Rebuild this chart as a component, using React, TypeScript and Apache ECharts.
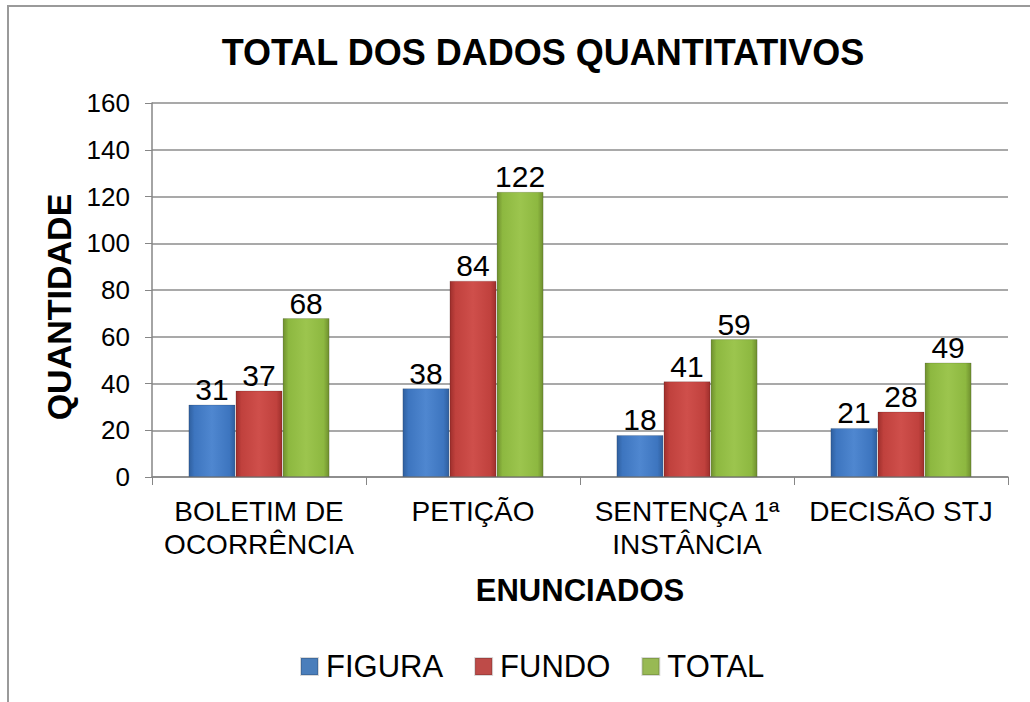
import React, { useEffect, useRef } from "react";
import * as echarts from "echarts";

const categories = ["BOLETIM DE\nOCORRÊNCIA", "PETIÇÃO", "SENTENÇA 1ª\nINSTÂNCIA", "DECISÃO STJ"];
const figura = [31, 38, 18, 21];
const fundo = [37, 84, 41, 28];
const total = [68, 122, 59, 49];
const seriesNames = ["FIGURA", "FUNDO", "TOTAL"];

const FONT = "'Liberation Sans', Arial, sans-serif";

function grad(dark: string, mid: string, light: string) {
  return new echarts.graphic.LinearGradient(0, 0, 1, 0, [
    { offset: 0, color: dark },
    { offset: 0.12, color: mid },
    { offset: 0.5, color: light },
    { offset: 0.88, color: mid },
    { offset: 1, color: dark },
  ]);
}

export default function App() {
  const ref = useRef<HTMLDivElement>(null);
  useEffect(() => {
    const chart = echarts.init(ref.current!, null, { renderer: "svg" });
    const colors = [
      grad("#2f5f9e", "#3d75bf", "#4f87d0"),
      grad("#9e2f2c", "#c0413d", "#cf4f4b"),
      grad("#6f8f2e", "#8db840", "#9cc54e"),
    ];
    const legendColors = ["#4a7ebb", "#be4b48", "#98b954"];
    const mk = (name: string, data: number[], i: number) => ({
      name,
      type: "bar",
      data,
      barGap: "0%",
      barCategoryGap: "34%",
      itemStyle: { color: colors[i], borderColor: "rgba(0,0,0,0.15)", borderWidth: 1 },
      label: {
        show: true,
        position: "top",
        distance: 0,
        fontSize: 30,
        fontFamily: FONT,
        color: "#000",
      },
    });
    chart.setOption({
      animation: false,
      color: legendColors,
      title: {
        text: "TOTAL DOS DADOS QUANTITATIVOS",
        left: 538,
        textAlign: "center",
        top: 29,
        textStyle: { fontSize: 36, fontWeight: "bold", fontFamily: FONT, color: "#000" },
      },
      graphic: [
        {
          type: "rect",
          shape: { x: 8, y: 6, width: 1200, height: 900 },
          style: { fill: "none", stroke: "#9a9a9a", lineWidth: 2 },
          silent: true,
        },
      ],
      legend: {
        data: seriesNames.map((n, i) => ({ name: n, itemStyle: { color: legendColors[i] } })),
        left: 295,
        top: 646,
        itemWidth: 17,
        itemHeight: 17,
        itemGap: 31,
        icon: "rect",
        textStyle: { fontSize: 31, fontFamily: FONT, color: "#000", padding: [0, 0, 0, 3] },
      },
      grid: { left: 152, right: 22, top: 103, bottom: 225, containLabel: false },
      xAxis: {
        type: "category",
        data: categories,
        name: "ENUNCIADOS",
        nameLocation: "middle",
        nameGap: 98,
        nameTextStyle: { fontSize: 31, fontWeight: "bold", fontFamily: FONT, color: "#000" },
        axisLine: { lineStyle: { color: "#868686", width: 1.5 } },
        axisTick: { show: true, length: 8, lineStyle: { color: "#868686" } },
        axisLabel: { fontSize: 28, fontFamily: FONT, color: "#000", margin: 18, lineHeight: 33, interval: 0 },
      },
      yAxis: {
        type: "value",
        min: 0,
        max: 160,
        interval: 20,
        name: "QUANTIDADE",
        nameLocation: "middle",
        nameGap: 74,
        nameTextStyle: {
          fontSize: 34,
          fontWeight: "bold",
          fontFamily: FONT,
          color: "#000",
          padding: [0, 34, 0, 0],
        },
        axisLine: { show: true, lineStyle: { color: "#868686", width: 1.5 } },
        axisTick: { show: true, length: 7, lineStyle: { color: "#868686" } },
        splitLine: { lineStyle: { color: "#8c8c8c", width: 1.5 } },
        axisLabel: { fontSize: 26, fontFamily: FONT, color: "#000", margin: 22 },
      },
      series: [mk(seriesNames[0], figura, 0), mk(seriesNames[1], fundo, 1), mk(seriesNames[2], total, 2)],
    });
    return () => chart.dispose();
  }, []);
  return (
    <div
      ref={ref}
      style={{ position: "fixed", left: 0, top: 0, width: 1030, height: 702, background: "#fff" }}
    />
  );
}
